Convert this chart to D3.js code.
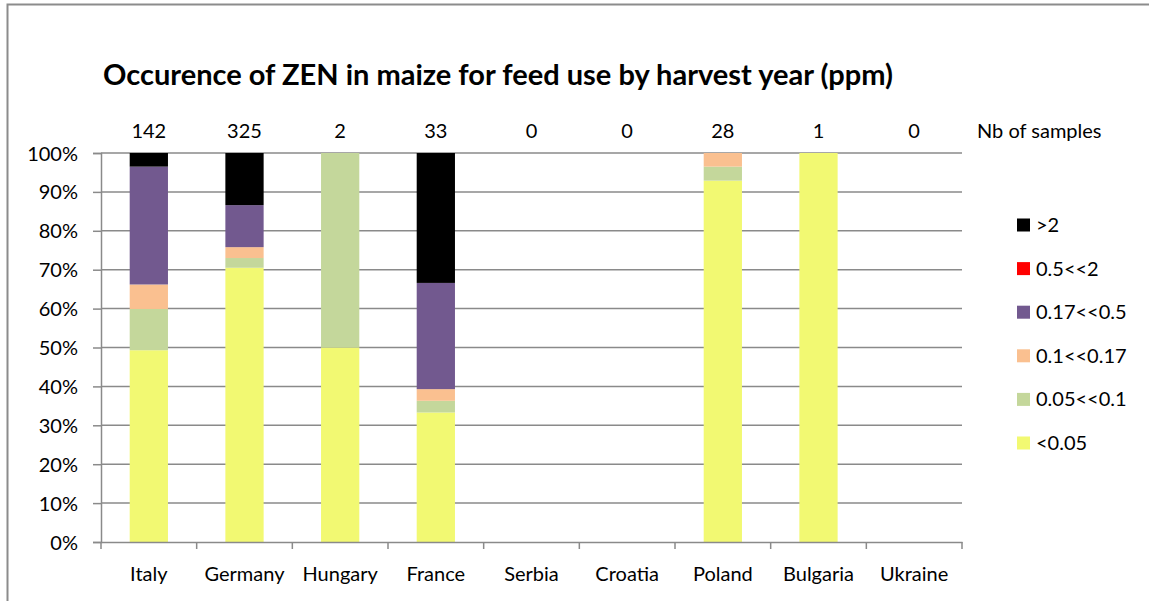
<!DOCTYPE html>
<html>
<head>
<meta charset="utf-8">
<script src="https://cdn.jsdelivr.net/npm/d3@7"></script>
<style>
  html, body { margin: 0; padding: 0; background: #fff; }
  svg { display: block; }
  text { font-family: Lato, "Open Sans", "Liberation Sans", sans-serif; fill: #000; }
</style>
</head>
<body>
<svg id="chart" width="1149" height="601"></svg>
<script>
// ---- data ----
const countries = ["Italy", "Germany", "Hungary", "France", "Serbia", "Croatia", "Poland", "Bulgaria", "Ukraine"];
const sampleCounts = [142, 325, 2, 33, 0, 0, 28, 1, 0];
const seriesNames = ["<0.05", "0.05<<0.1", "0.1<<0.17", "0.17<<0.5", "0.5<<2", ">2"];
const seriesColors = ["#F2F972", "#C4D79B", "#FAC090", "#72598F", "#FF0000", "#000000"];
// percentage of samples per class, one array per series (same order as countries)
const lt005    = [49.3, 70.5, 50, 33.3, 0, 0, 92.9, 100, 0];
const c005_01  = [10.6, 2.5, 50, 3.0, 0, 0, 3.6, 0, 0];
const c01_017  = [6.3, 2.8, 0, 3.0, 0, 0, 3.5, 0, 0];
const c017_05  = [30.3, 10.8, 0, 27.3, 0, 0, 0, 0, 0];
const c05_2    = [0, 0, 0, 0, 0, 0, 0, 0, 0];
const gt2      = [3.5, 13.4, 0, 33.4, 0, 0, 0, 0, 0];
const yTicks = [0, 10, 20, 30, 40, 50, 60, 70, 80, 90, 100];
const title = "Occurence of ZEN in maize for feed use by harvest year (ppm)";

const seriesValues = [lt005, c005_01, c01_017, c017_05, c05_2, gt2];
const rows = countries.map((c, i) => {
  const r = { country: c };
  seriesNames.forEach((s, k) => r[s] = seriesValues[k][i]);
  return r;
});

// ---- layout ----
const svg = d3.select("#chart");
const plotLeft = 101, plotRight = 962, plotTop = 153, plotBottom = 542;
const fs = 20;

const x = d3.scaleBand().domain(countries).range([plotLeft, plotRight]).paddingInner(0.6).paddingOuter(0.3);
const y = d3.scaleLinear().domain([0, 100]).range([plotBottom, plotTop]);
const color = d3.scaleOrdinal().domain(seriesNames).range(seriesColors);

// outer frame
svg.append("path")
  .attr("d", `M7.5,601 V4.5 H1149`)
  .attr("fill", "none").attr("stroke", "#8c8c8c").attr("stroke-width", 2);

// title
svg.append("text")
  .attr("x", 498).attr("y", 85)
  .attr("text-anchor", "middle")
  .attr("font-size", 29).attr("font-weight", "bold")
  .text(title);

// gridlines
svg.append("g").selectAll("line").data(yTicks.filter(d => d > 0)).join("line")
  .attr("x1", plotLeft).attr("x2", plotRight)
  .attr("y1", d => y(d)).attr("y2", d => y(d))
  .attr("stroke", "#8a8a8a").attr("stroke-width", 1.5);

// bars
const stack = d3.stack().keys(seriesNames);
const stacked = stack(rows);
svg.append("g").selectAll("g").data(stacked).join("g")
  .attr("fill", d => color(d.key))
  .selectAll("rect").data(d => d).join("rect")
  .attr("x", d => x(d.data.country))
  .attr("width", x.bandwidth())
  .attr("y", d => y(d[1]))
  .attr("height", d => Math.max(0, y(d[0]) - y(d[1])));

// y axis
const yAxis = d3.axisLeft(y).tickValues(yTicks).tickFormat(d => d + "%").tickSize(8).tickPadding(15);
const gy = svg.append("g").attr("transform", `translate(${plotLeft},0)`).call(yAxis);
gy.select(".domain").attr("stroke", "#8a8a8a").attr("stroke-width", 1.5);
gy.selectAll(".tick line").attr("stroke", "#8a8a8a").attr("stroke-width", 1.5);
gy.selectAll(".tick text").attr("font-size", fs).attr("font-family", "Lato, sans-serif").attr("dy", "0.35em");

// x axis
const xAxis = d3.axisBottom(x).tickSize(0).tickPadding(25);
const gx = svg.append("g").attr("transform", `translate(0,${plotBottom})`).call(xAxis);
gx.select(".domain").attr("stroke", "#8a8a8a").attr("stroke-width", 1.5);
gx.selectAll(".tick text").attr("font-size", fs).attr("font-family", "Lato, sans-serif");
// category boundary ticks
const boundaries = d3.range(countries.length + 1).map(i => plotLeft + i * x.step());
svg.append("g").selectAll("line").data(boundaries).join("line")
  .attr("x1", d => d).attr("x2", d => d)
  .attr("y1", plotBottom).attr("y2", plotBottom + 7)
  .attr("stroke", "#8a8a8a").attr("stroke-width", 1.5);

// sample counts
svg.append("g").selectAll("text").data(countries).join("text")
  .attr("x", d => x(d) + x.bandwidth() / 2)
  .attr("y", 138)
  .attr("text-anchor", "middle")
  .attr("font-size", fs)
  .text((d, i) => sampleCounts[i]);
svg.append("text").attr("x", 977).attr("y", 138).attr("font-size", fs).text("Nb of samples");

// legend (top to bottom: reversed series order)
const legendItems = seriesNames.slice().reverse();
const lg = svg.append("g").selectAll("g").data(legendItems).join("g")
  .attr("transform", (d, i) => `translate(1017,${225 + i * 43.6})`);
lg.append("rect").attr("x", 0).attr("y", -6.5).attr("width", 13).attr("height", 13).attr("fill", d => color(d));
lg.append("text").attr("x", 19).attr("y", 0).attr("dy", "0.35em").attr("font-size", fs).text(d => d);
</script>
</body>
</html>
